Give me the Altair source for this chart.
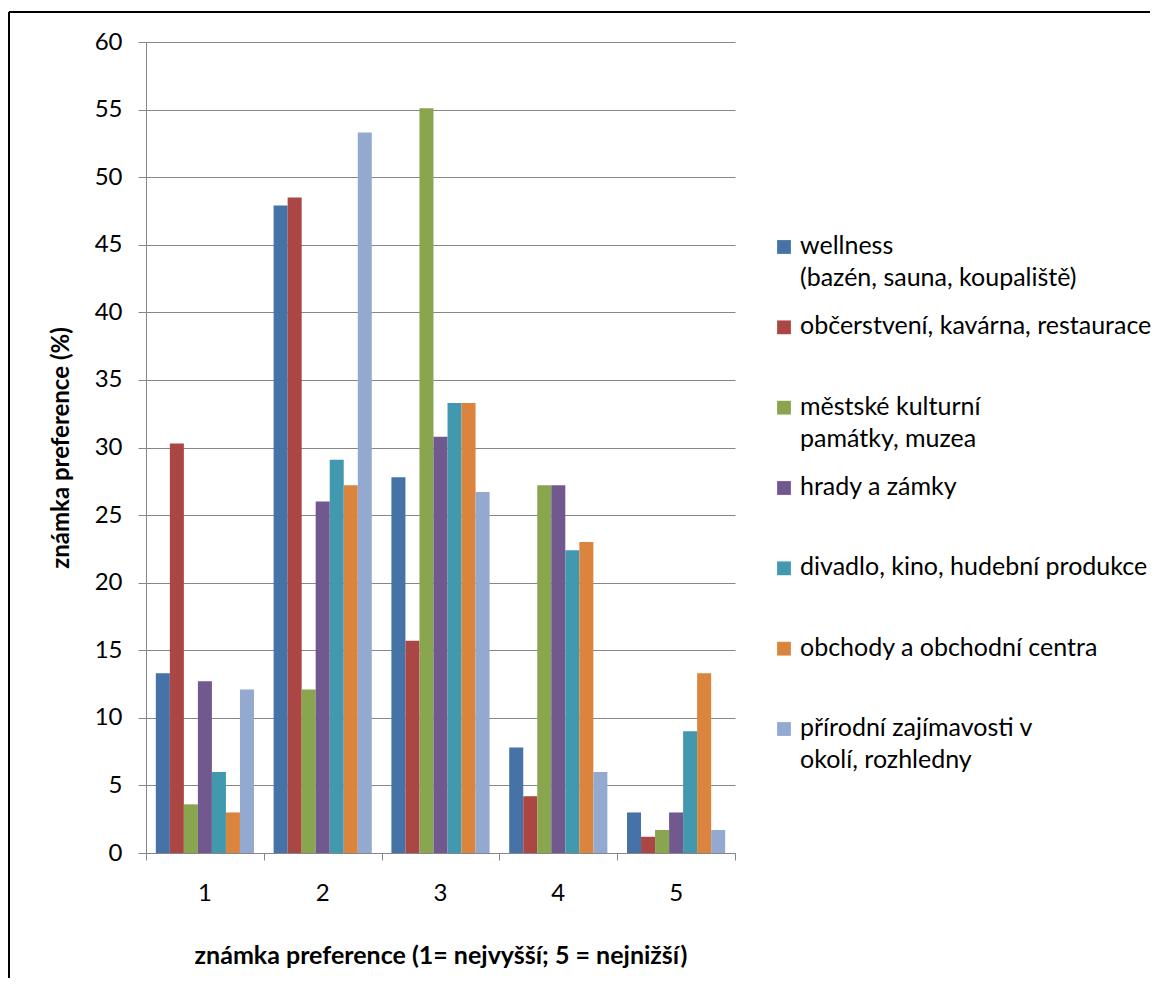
import altair as alt
import pandas as pd

categories = ["1", "2", "3", "4", "5"]

series = [
    "wellness (bazén, sauna, koupaliště)",
    "občerstvení, kavárna, restaurace",
    "městské kulturní památky, muzea",
    "hrady a zámky",
    "divadlo, kino, hudební produkce",
    "obchody a obchodní centra",
    "přírodní zajímavosti v okolí, rozhledny",
]
legend_labels = [
    "wellness\n(bazén, sauna, koupaliště)",
    "občerstvení, kavárna, restaurace",
    "městské kulturní\npamátky, muzea",
    "hrady a zámky",
    "divadlo, kino, hudební produkce",
    "obchody a obchodní centra",
    "přírodní zajímavosti v\nokolí, rozhledny",
]
colors = ["#4572A7", "#AA4643", "#89A54E", "#71588F", "#4198AF", "#DB843D", "#93A9CF"]

wellness = [13.3, 47.9, 27.8, 7.8, 3.0]
obcerstveni = [30.3, 48.5, 15.7, 4.2, 1.2]
mestske = [3.6, 12.1, 55.1, 27.2, 1.7]
hrady = [12.7, 26.0, 30.8, 27.2, 3.0]
divadlo = [6.0, 29.1, 33.3, 22.4, 9.0]
obchody = [3.0, 27.2, 33.3, 23.0, 13.3]
prirodni = [12.1, 53.3, 26.7, 6.0, 1.7]
all_values = [wellness, obcerstveni, mestske, hrady, divadlo, obchody, prirodni]

y_ticks = list(range(0, 61, 5))
x_tick_values = [0, 1, 2, 3, 4, 5]

rows = []
for s, vals in zip(series, all_values):
    for c, v in zip(categories, vals):
        rows.append({"kategorie": c, "serie": s, "hodnota": v})
df = pd.DataFrame(rows)
legend_df = pd.DataFrame({"serie": series, "popis": legend_labels})
ticks_df = pd.DataFrame({"pos": x_tick_values})
one_df = pd.DataFrame({"a": [0]})

FONT = "Lato"
GRAY = "#868686"

color_scale = alt.Scale(domain=series, range=colors)

bars = alt.Chart(df).mark_bar().encode(
    x=alt.X(
        "kategorie:N",
        sort=categories,
        scale=alt.Scale(paddingInner=0, paddingOuter=0),
        axis=alt.Axis(
            title="známka preference (1= nejvyšší; 5 = nejnižší)",
            labelAngle=0,
            ticks=False,
            domain=True,
            domainColor=GRAY,
            domainWidth=1,
            labelFont=FONT,
            labelFontSize=24,
            labelColor="black",
            labelPadding=28,
            titleFont=FONT,
            titleFontSize=25,
            titleFontWeight="bold",
            titleColor="black",
            titlePadding=38,
            orient="bottom",
        ),
    ),
    xOffset=alt.XOffset("serie:N", sort=series, scale=alt.Scale(paddingInner=0, paddingOuter=0.7)),
    y=alt.Y(
        "hodnota:Q",
        scale=alt.Scale(domain=[0, 60], nice=False),
        axis=alt.Axis(
            title="známka preference (%)",
            values=y_ticks,
            grid=True,
            gridColor=GRAY,
            gridWidth=1,
            domainColor=GRAY,
            tickColor=GRAY,
            tickSize=8,
            labelFont=FONT,
            labelFontSize=24,
            labelColor="black",
            labelPadding=16,
            titleFont=FONT,
            titleFontSize=24,
            titleFontWeight="bold",
            titleColor="black",
            titlePadding=21,
        ),
    ),
    color=alt.Color("serie:N", scale=color_scale, legend=None),
)

xticks = alt.Chart(ticks_df).mark_tick(opacity=0).encode(
    x=alt.X(
        "pos:Q",
        scale=alt.Scale(domain=[0, 5], nice=False, zero=False),
        axis=alt.Axis(
            values=x_tick_values,
            labels=False,
            domain=False,
            grid=False,
            ticks=True,
            tickSize=7,
            tickColor=GRAY,
            title=None,
            orient="bottom",
        ),
    ),
    y=alt.value(811),
)

legend_y = alt.Y(
    "serie:N",
    sort=series,
    scale=alt.Scale(type="point", range=[205, 687], padding=0),
    axis=None,
)

leg_sq = alt.Chart(legend_df).mark_square(size=190, opacity=1).encode(
    x=alt.value(638),
    y=legend_y,
    color=alt.Color("serie:N", scale=color_scale, legend=None),
)

leg_txt = alt.Chart(legend_df).mark_text(
    align="left", baseline="alphabetic", dy=7, lineBreak="\n", lineHeight=32,
    font=FONT, fontSize=25, color="black",
).encode(
    x=alt.value(654),
    y=legend_y,
    text="popis:N",
)

border_left = alt.Chart(one_df).mark_rule(color="black", strokeWidth=2).encode(
    x=alt.value(-137), y=alt.value(-30), y2=alt.value(936),
)
border_top = alt.Chart(one_df).mark_rule(color="black", strokeWidth=2).encode(
    x=alt.value(-137), x2=alt.value(1004), y=alt.value(-30),
)

chart = (
    alt.layer(bars, xticks, leg_sq, leg_txt, border_left, border_top)
    .resolve_scale(x="independent", y="independent")
    .properties(width=589, height=811, padding={"left": 0, "top": 3, "right": 0, "bottom": 0})
    .configure_view(strokeWidth=0)
)

chart.save("out.html", embed_options={"renderer": "svg", "actions": False})
